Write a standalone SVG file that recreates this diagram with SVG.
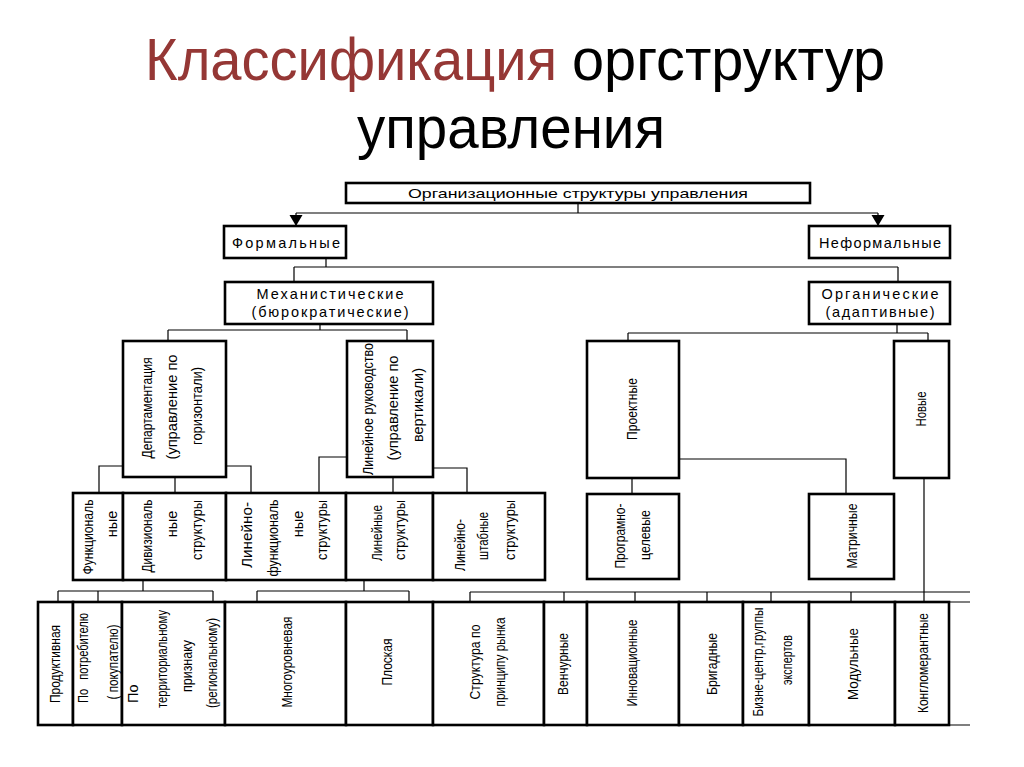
<svg xmlns="http://www.w3.org/2000/svg" width="1024" height="767" viewBox="0 0 1024 767">
<defs>
<style>
.ttl{font-family:"Liberation Sans",Arial,sans-serif;font-size:60px;fill:#000}
.red{fill:#953735}
.box{fill:#fff;stroke:#000;stroke-width:2.6}
.ln{fill:none;stroke:#000;stroke-width:1.2}
.h{font-family:"Liberation Sans",Arial,sans-serif;font-size:14.5px;fill:#000;text-anchor:middle}
.hs{font-family:"Liberation Sans",Arial,sans-serif;font-size:13.5px;fill:#000;text-anchor:middle}
.v{font-family:"Liberation Sans",Arial,sans-serif;font-size:14.5px;fill:#000;text-anchor:middle}
.vs{font-family:"Liberation Sans",Arial,sans-serif;font-size:14.5px;fill:#000;text-anchor:start}
</style>
<marker id="arr" markerUnits="userSpaceOnUse" markerWidth="12" markerHeight="14" refX="11" refY="6.5" orient="auto" viewBox="0 0 12 13">
<path d="M0,0 L11,6.5 L0,13 Z" fill="#000"/>
</marker>
</defs>
<rect width="1024" height="767" fill="#fff"/>

<g id="title">
<text class="ttl red" x="145" y="80" textLength="412" lengthAdjust="spacingAndGlyphs">Классификация</text>
<text class="ttl" x="572" y="80" textLength="313" lengthAdjust="spacingAndGlyphs">оргструктур</text>
<text class="ttl" x="357" y="148" textLength="308" lengthAdjust="spacingAndGlyphs">управления</text>
</g>

<g id="connectors">
<path class="ln" d="M578,203 V213 M296,213 H878"/>
<path class="ln" d="M296,213 V226" marker-end="url(#arr)"/>
<path class="ln" d="M878,213 V226" marker-end="url(#arr)"/>
<path class="ln" d="M326,258 V267 M294,267 H898 M294,267 V282 M898,267 V282"/>
<path class="ln" d="M320,324 V330 M168,330 H407 M168,330 V341 M407,330 V341"/>
<path class="ln" d="M897,324 V333 M628,333 H928 M628,333 V341 M928,333 V341"/>
<path class="ln" d="M123,466 H99 V493 M226,466 H251 V493 M175,477 V493"/>
<path class="ln" d="M347,457 H319 V493 M433,468 H467 V493 M393,477 V493"/>
<path class="ln" d="M632,478 V494 M679,459 H846 V494"/>
<path class="ln" d="M924,478 V602"/>
<path class="ln" d="M143,580 V591 M58,591 H213 M58,591 V602 M98,591 V602 M213,591 V602"/>
<path class="ln" d="M364,580 V591 M257,591 H409 M257,591 V602 M409,591 V602"/>
<path class="ln" d="M470,592 H970 M470,592 V602 M564,592 V602 M635,592 V602 M707,592 V602 M771,592 V602 M851,592 V602"/>
<path class="ln" d="M949,602 H970 M949,725 H970"/>
</g>

<g id="n-root">
<rect class="box" x="346" y="183" width="464" height="20"/>
<text class="hs" x="578" y="198" textLength="340" lengthAdjust="spacingAndGlyphs">Организационные структуры управления</text>
</g>
<g id="n-formal">
<rect class="box" x="224" y="226" width="122" height="32"/>
<text class="h" x="286" y="248" textLength="108" lengthAdjust="spacing">Формальные</text>
</g>
<g id="n-informal">
<rect class="box" x="809" y="226" width="141" height="32"/>
<text class="h" x="880" y="248" textLength="122" lengthAdjust="spacing">Неформальные</text>
</g>
<g id="n-mech">
<rect class="box" x="225" y="282" width="208" height="42"/>
<text class="h" x="330" y="299" textLength="147" lengthAdjust="spacing">Механистические</text>
<text class="h" x="330" y="317" textLength="157" lengthAdjust="spacing">(бюрократические)</text>
</g>
<g id="n-org">
<rect class="box" x="809" y="282" width="141" height="42"/>
<text class="h" x="880" y="299" textLength="117" lengthAdjust="spacing">Органические</text>
<text class="h" x="880" y="317" textLength="109" lengthAdjust="spacing">(адаптивные)</text>
</g>

<g id="n-dept">
<rect class="box" x="123" y="341" width="103" height="136"/>
<text class="v" transform="translate(152,408) rotate(-90)" textLength="101" lengthAdjust="spacingAndGlyphs">Департаментация</text>
<text class="v" transform="translate(177,407) rotate(-90)" textLength="105" lengthAdjust="spacingAndGlyphs">(управление по</text>
<text class="v" transform="translate(202,406) rotate(-90)" textLength="78" lengthAdjust="spacingAndGlyphs">горизонтали)</text>
</g>
<g id="n-linear-mgmt">
<rect class="box" x="347" y="341" width="86" height="136"/>
<text class="v" transform="translate(373,409) rotate(-90)" textLength="132" lengthAdjust="spacingAndGlyphs">Линейное руководство</text>
<text class="v" transform="translate(398,408) rotate(-90)" textLength="105" lengthAdjust="spacingAndGlyphs">(управление по</text>
<text class="v" transform="translate(423,405) rotate(-90)" textLength="74" lengthAdjust="spacingAndGlyphs">вертикали)</text>
</g>
<g id="n-project">
<rect class="box" x="587" y="341" width="92" height="137"/>
<text class="v" transform="translate(637,409) rotate(-90)" textLength="62" lengthAdjust="spacingAndGlyphs">Проектные</text>
</g>
<g id="n-new">
<rect class="box" x="894" y="341" width="55" height="137"/>
<text class="v" transform="translate(926,409) rotate(-90)" textLength="35" lengthAdjust="spacingAndGlyphs">Новые</text>
</g>

<g id="n-func">
<rect class="box" x="73" y="493" width="50" height="87"/>
<text class="v" transform="translate(93,537) rotate(-90)" textLength="75" lengthAdjust="spacingAndGlyphs">Функциональ</text>
<text class="v" transform="translate(117,524) rotate(-90)">ные</text>
</g>
<g id="n-div">
<rect class="box" x="123" y="493" width="103" height="87"/>
<text class="v" transform="translate(152,536) rotate(-90)" textLength="73" lengthAdjust="spacingAndGlyphs">Дивизиональ</text>
<text class="v" transform="translate(177,524) rotate(-90)">ные</text>
<text class="v" transform="translate(202,530) rotate(-90)" textLength="60" lengthAdjust="spacingAndGlyphs">структуры</text>
</g>
<g id="n-linfunc">
<rect class="box" x="226" y="493" width="120" height="87"/>
<text class="v" transform="translate(252,535) rotate(-90)" textLength="66" lengthAdjust="spacingAndGlyphs">Линейно-</text>
<text class="v" transform="translate(278,538) rotate(-90)" textLength="77" lengthAdjust="spacingAndGlyphs">функциональ</text>
<text class="v" transform="translate(303,524) rotate(-90)">ные</text>
<text class="v" transform="translate(327,530) rotate(-90)" textLength="60" lengthAdjust="spacingAndGlyphs">структуры</text>
</g>
<g id="n-lin">
<rect class="box" x="346" y="493" width="87" height="87"/>
<text class="v" transform="translate(382,533) rotate(-90)" textLength="56" lengthAdjust="spacingAndGlyphs">Линейные</text>
<text class="v" transform="translate(405,530) rotate(-90)" textLength="60" lengthAdjust="spacingAndGlyphs">структуры</text>
</g>
<g id="n-linstaff">
<rect class="box" x="433" y="493" width="112" height="87"/>
<text class="v" transform="translate(465,545) rotate(-90)" textLength="52" lengthAdjust="spacingAndGlyphs">Линейно-</text>
<text class="v" transform="translate(488,536) rotate(-90)" textLength="48" lengthAdjust="spacingAndGlyphs">штабные</text>
<text class="v" transform="translate(515,530) rotate(-90)" textLength="60" lengthAdjust="spacingAndGlyphs">структуры</text>
</g>
<g id="n-progtarget">
<rect class="box" x="587" y="494" width="92" height="85"/>
<text class="v" transform="translate(625,536) rotate(-90)" textLength="65" lengthAdjust="spacingAndGlyphs">Програмно-</text>
<text class="v" transform="translate(650,535) rotate(-90)" textLength="50" lengthAdjust="spacingAndGlyphs">целевые</text>
</g>
<g id="n-matrix">
<rect class="box" x="809" y="494" width="85" height="85"/>
<text class="v" transform="translate(857,536) rotate(-90)" textLength="65" lengthAdjust="spacingAndGlyphs">Матричные</text>
</g>

<g id="n-product">
<rect class="box" x="38" y="602" width="35" height="123"/>
<text class="v" transform="translate(60,664) rotate(-90)" textLength="78" lengthAdjust="spacingAndGlyphs">Продуктивная</text>
</g>
<g id="n-consumer">
<rect class="box" x="73" y="602" width="49" height="123"/>
<text class="v" xml:space="preserve" transform="translate(88,658) rotate(-90)" textLength="90" lengthAdjust="spacingAndGlyphs">По   потребителю</text>
<text class="v" xml:space="preserve" transform="translate(118,662) rotate(-90)" textLength="75" lengthAdjust="spacingAndGlyphs">( покупателю)</text>
</g>
<g id="n-territory">
<rect class="box" x="122" y="602" width="103" height="123"/>
<text class="vs" transform="translate(138,703) rotate(-90)">По</text>
<text class="v" transform="translate(167,659) rotate(-90)" textLength="98" lengthAdjust="spacingAndGlyphs">территориальному</text>
<text class="v" transform="translate(192,666) rotate(-90)" textLength="52" lengthAdjust="spacingAndGlyphs">признаку</text>
<text class="v" transform="translate(217,663) rotate(-90)" textLength="90" lengthAdjust="spacingAndGlyphs">(региональному)</text>
</g>
<g id="n-multilevel">
<rect class="box" x="225" y="602" width="121" height="123"/>
<text class="v" transform="translate(292,662) rotate(-90)" textLength="91" lengthAdjust="spacingAndGlyphs">Многоуровневая</text>
</g>
<g id="n-flat">
<rect class="box" x="346" y="602" width="87" height="123"/>
<text class="v" transform="translate(392,662) rotate(-90)" textLength="47" lengthAdjust="spacingAndGlyphs">Плоская</text>
</g>
<g id="n-market">
<rect class="box" x="433" y="602" width="111" height="123"/>
<text class="v" transform="translate(480,662) rotate(-90)" textLength="75" lengthAdjust="spacingAndGlyphs">Структура по</text>
<text class="v" transform="translate(505,662) rotate(-90)" textLength="89" lengthAdjust="spacingAndGlyphs">принципу рынка</text>
</g>
<g id="n-venture">
<rect class="box" x="544" y="602" width="43" height="123"/>
<text class="v" transform="translate(568,664) rotate(-90)" textLength="62" lengthAdjust="spacingAndGlyphs">Венчурные</text>
</g>
<g id="n-innov">
<rect class="box" x="587" y="602" width="92" height="123"/>
<text class="v" transform="translate(637,663) rotate(-90)" textLength="87" lengthAdjust="spacingAndGlyphs">Инновационные</text>
</g>
<g id="n-brigade">
<rect class="box" x="679" y="602" width="64" height="123"/>
<text class="v" transform="translate(717,664) rotate(-90)" textLength="62" lengthAdjust="spacingAndGlyphs">Бригадные</text>
</g>
<g id="n-business">
<rect class="box" x="743" y="602" width="66" height="123"/>
<text class="v" transform="translate(763,662) rotate(-90)" textLength="109" lengthAdjust="spacingAndGlyphs">Бизне-центр,группы</text>
<text class="v" transform="translate(792,660) rotate(-90)" textLength="50" lengthAdjust="spacingAndGlyphs">экспертов</text>
</g>
<g id="n-modular">
<rect class="box" x="809" y="602" width="86" height="123"/>
<text class="v" transform="translate(858,664) rotate(-90)" textLength="72" lengthAdjust="spacingAndGlyphs">Модульные</text>
</g>
<g id="n-conglom">
<rect class="box" x="895" y="602" width="54" height="123"/>
<text class="v" transform="translate(928,663) rotate(-90)" textLength="100" lengthAdjust="spacingAndGlyphs">Конгломерантные</text>
</g>
</svg>
